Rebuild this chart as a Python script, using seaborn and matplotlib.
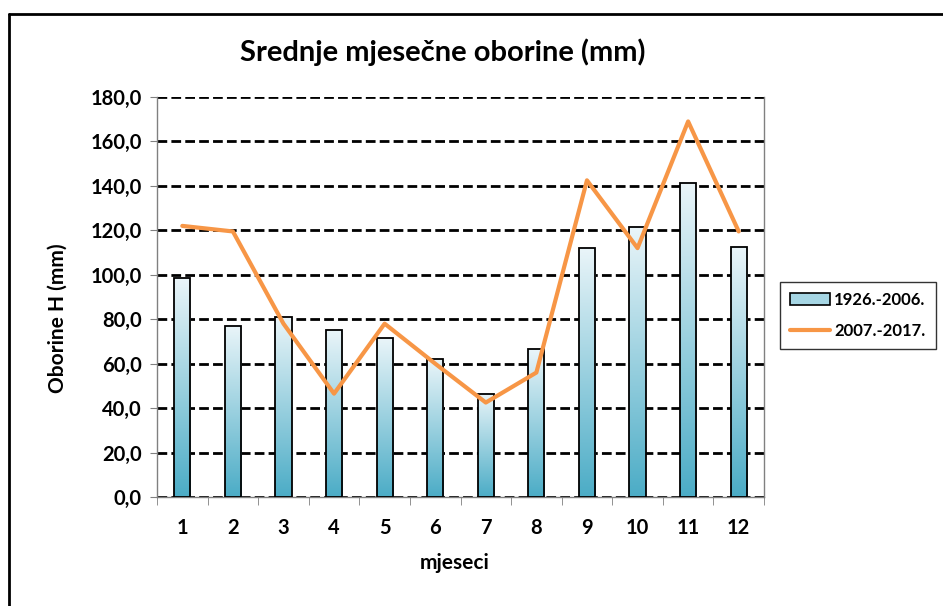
import numpy as np
import pandas as pd
import matplotlib
matplotlib.use('Agg')
import matplotlib.pyplot as plt
import seaborn as sns
from matplotlib.colors import LinearSegmentedColormap
from matplotlib.lines import Line2D
from matplotlib.patches import Patch

# Podaci ocitani s grafa
mjeseci = [1, 2, 3, 4, 5, 6, 7, 8, 9, 10, 11, 12]
oborine_1926_2006 = [98.5, 77.0, 81.0, 75.0, 71.5, 62.0, 46.5, 66.5, 112.0, 121.5, 141.5, 112.5]
oborine_2007_2017 = [122.0, 119.5, 78.0, 46.5, 78.0, 60.0, 42.5, 56.0, 142.5, 112.0, 169.0, 119.5]
y_ticks = [0, 20, 40, 60, 80, 100, 120, 140, 160, 180]

sns.set_style('white')
plt.rcParams['font.family'] = ['Lato', 'DejaVu Sans']
plt.rcParams['font.weight'] = 'bold'
plt.rcParams['text.color'] = 'black'
plt.rcParams['axes.labelcolor'] = 'black'
plt.rcParams['xtick.color'] = 'black'
plt.rcParams['ytick.color'] = 'black'

fig = plt.figure(figsize=(9.43, 6.06), dpi=100)
ax = fig.add_axes([157 / 943, 1 - 497 / 606, 607 / 943, 400 / 606])

df = pd.DataFrame({'mjesec': mjeseci, 'stari': oborine_1926_2006, 'novi': oborine_2007_2017})

# stupci s gradijentom
sns.barplot(data=df, x='mjesec', y='stari', width=0.32, color='#4bacc6',
            edgecolor='black', linewidth=1.3, ax=ax, zorder=3)
cmap = LinearSegmentedColormap.from_list('grad', ['#4bacc6', '#eaf5f9'])
grad = np.linspace(0, 1, 256).reshape(-1, 1)
for p in ax.patches:
    x0, y0, w, h = p.get_x(), p.get_y(), p.get_width(), p.get_height()
    p.set_facecolor('none')
    ax.imshow(grad, extent=[x0, x0 + w, y0, y0 + h], origin='lower',
              aspect='auto', cmap=cmap, zorder=2.5)

# linija 2007.-2017.
sns.lineplot(x=np.arange(len(mjeseci)), y=df['novi'], color='#f79646',
             linewidth=3, ax=ax, zorder=4)

ax.set_xlim(-0.5, len(mjeseci) - 0.5)
ax.set_ylim(0, 180)
ax.set_yticks(y_ticks)
ax.set_yticklabels([f"{v:.1f}".replace('.', ',') for v in y_ticks], fontsize=14.5, fontweight='bold')
ax.set_xticks(np.arange(len(mjeseci)))
ax.set_xticklabels([str(m) for m in mjeseci], fontsize=14.5, fontweight='bold')
ax.set_xticks(np.arange(-0.5, len(mjeseci)), minor=True)
ax.tick_params(axis='x', which='major', length=0, pad=15)
ax.tick_params(axis='x', which='minor', length=6, direction='out', color='#808080', bottom=True)
ax.tick_params(axis='y', length=5, direction='out', color='#808080', left=True, pad=6)

ax.yaxis.grid(True, color='black', linestyle=(0, (3.5, 1.5)), linewidth=2)
ax.set_axisbelow(True)

for s in ['left', 'bottom', 'right']:
    ax.spines[s].set_color('#808080')
    ax.spines[s].set_linewidth(1)
ax.spines['top'].set_visible(False)

ax.set_xlabel('mjeseci', fontsize=15, fontweight='bold')
ax.xaxis.set_label_coords(0.49, -0.14)
ax.set_ylabel('Oborine H (mm)', fontsize=15, fontweight='bold')
ax.yaxis.set_label_coords(-0.147, 0.4475)

fig.text(443 / 943, 1 - 52 / 606, 'Srednje mjesečne oborine (mm)', ha='center', va='center',
         fontsize=21, fontweight='bold')

handles = [Patch(facecolor='#a6d6e4', edgecolor='black', linewidth=1.2),
           Line2D([0], [0], color='#f79646', linewidth=3)]
leg = ax.legend(handles, ['1926.-2006.', '2007.-2017.'], loc='upper left',
                bbox_to_anchor=(780 / 943, 1 - 282 / 606), bbox_transform=fig.transFigure,
                borderaxespad=0, fancybox=False, frameon=True, fontsize=12,
                handlelength=2.4, labelspacing=0.9, borderpad=0.6, handletextpad=0.25)
leg.get_frame().set_edgecolor('black')
leg.get_frame().set_linewidth(1)
for t in leg.get_texts():
    t.set_fontweight('bold')

# okvir slike
fig.add_artist(Line2D([9 / 943, 1], [1 - 14 / 606, 1 - 14 / 606], color='black', linewidth=2,
                      transform=fig.transFigure))
fig.add_artist(Line2D([9 / 943, 9 / 943], [0, 1 - 14 / 606], color='black', linewidth=2,
                      transform=fig.transFigure))

fig.savefig('out.png', dpi=100)
